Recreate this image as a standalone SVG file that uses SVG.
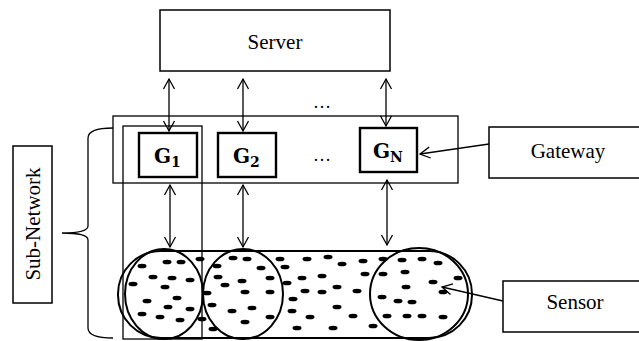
<svg xmlns="http://www.w3.org/2000/svg" width="639" height="341" viewBox="0 0 639 341">
  <defs>
    <marker id="open" markerWidth="14" markerHeight="14" refX="11" refY="7" orient="auto-start-reverse" markerUnits="userSpaceOnUse">
      <path d="M1,1.5 L11,7 L1,12.5" fill="none" stroke="#000" stroke-width="1.3"/>
    </marker>
    <style>
      .box { fill: #fff; stroke: #000; stroke-width: 1.5; }
      .thin { fill: none; stroke: #000; stroke-width: 1.3; }
      .gbox { fill: #fff; stroke: #000; stroke-width: 2.4; }
      .lbl { font-family: "Liberation Serif", "Times New Roman", serif; font-size: 21px; fill: #000; }
      .g { font-family: "DejaVu Serif", "Liberation Serif", serif; font-weight: bold; font-size: 20px; fill: #000; }
      .sub { font-size: 14px; }
      .dots { font-family: "Liberation Serif", serif; font-size: 18px; fill: #000; }
      .link { fill: none; stroke: #000; stroke-width: 1.3; }
      .ring { fill: none; stroke: #000; stroke-width: 2; }
      .dot { fill: #000; }
    </style>
  </defs>

  <rect width="639" height="341" fill="#fff"/>

  <!-- server -->
  <g id="server">
    <rect class="box" x="160" y="10" width="230" height="61" stroke-width="2"/>
    <text class="lbl" x="275" y="49" text-anchor="middle">Server</text>
  </g>

  <!-- gateway row -->
  <g id="gateway-row">
    <rect class="thin" x="113" y="116" width="345" height="67"/>
  </g>

  <!-- sub-network column -->
  <g id="subnetwork-column">
    <rect class="thin" x="123" y="126" width="79" height="213"/>
  </g>

  <g id="g1">
    <rect class="gbox" x="139" y="133" width="58" height="44"/>
    <text class="g" x="154" y="163">G<tspan class="sub" dy="4">1</tspan></text>
  </g>
  <g id="g2">
    <rect class="gbox" x="218" y="133" width="58" height="44"/>
    <text class="g" x="233" y="163">G<tspan class="sub" dy="4">2</tspan></text>
  </g>
  <g id="gn">
    <rect class="gbox" x="360" y="128" width="57" height="44"/>
    <text class="g" x="373" y="158">G<tspan class="sub" dy="4">N</tspan></text>
  </g>

  <text class="dots" x="322" y="108" text-anchor="middle">…</text>
  <text class="dots" x="322" y="161" text-anchor="middle">…</text>

  <!-- sensor field -->
  <g id="sensor-field">
    <rect class="ring" x="118" y="251" width="354" height="87" rx="43" ry="43"/>
    <ellipse class="ring" cx="164" cy="294" rx="39" ry="45"/>
    <ellipse class="ring" cx="243" cy="294" rx="40" ry="45"/>
    <ellipse class="ring" cx="419" cy="294" rx="49" ry="46"/>
    <g class="dot">
      <ellipse cx="142" cy="266" rx="4.5" ry="2.3"/>
      <ellipse cx="167" cy="262" rx="4.5" ry="2.3"/>
      <ellipse cx="181" cy="262" rx="4.5" ry="2.3"/>
      <ellipse cx="153" cy="277" rx="4.5" ry="2.3"/>
      <ellipse cx="172" cy="278" rx="4.5" ry="2.3"/>
      <ellipse cx="190" cy="280" rx="4.5" ry="2.3"/>
      <ellipse cx="133" cy="284" rx="4.5" ry="2.3"/>
      <ellipse cx="165" cy="287" rx="4.5" ry="2.3"/>
      <ellipse cx="147" cy="301" rx="4.5" ry="2.3"/>
      <ellipse cx="177" cy="298" rx="4.5" ry="2.3"/>
      <ellipse cx="168" cy="307" rx="4.5" ry="2.3"/>
      <ellipse cx="190" cy="309" rx="4.5" ry="2.3"/>
      <ellipse cx="142" cy="314" rx="4.5" ry="2.3"/>
      <ellipse cx="160" cy="317" rx="4.5" ry="2.3"/>
      <ellipse cx="180" cy="320" rx="4.5" ry="2.3"/>
      <ellipse cx="200" cy="259" rx="4.5" ry="2.3"/>
      <ellipse cx="207" cy="293" rx="4.5" ry="2.3"/>
      <ellipse cx="212" cy="305" rx="4.5" ry="2.3"/>
      <ellipse cx="202" cy="319" rx="4.5" ry="2.3"/>
      <ellipse cx="213" cy="329" rx="4.5" ry="2.3"/>
      <ellipse cx="217" cy="266" rx="4.5" ry="2.3"/>
      <ellipse cx="233" cy="258" rx="4.5" ry="2.3"/>
      <ellipse cx="247" cy="259" rx="4.5" ry="2.3"/>
      <ellipse cx="261" cy="268" rx="4.5" ry="2.3"/>
      <ellipse cx="218" cy="277" rx="4.5" ry="2.3"/>
      <ellipse cx="225" cy="285" rx="4.5" ry="2.3"/>
      <ellipse cx="242" cy="281" rx="4.5" ry="2.3"/>
      <ellipse cx="270" cy="278" rx="4.5" ry="2.3"/>
      <ellipse cx="245" cy="292" rx="4.5" ry="2.3"/>
      <ellipse cx="270" cy="292" rx="4.5" ry="2.3"/>
      <ellipse cx="232" cy="311" rx="4.5" ry="2.3"/>
      <ellipse cx="252" cy="308" rx="4.5" ry="2.3"/>
      <ellipse cx="245" cy="322" rx="4.5" ry="2.3"/>
      <ellipse cx="270" cy="317" rx="4.5" ry="2.3"/>
      <ellipse cx="280" cy="259" rx="4.5" ry="2.3"/>
      <ellipse cx="285" cy="267" rx="4.5" ry="2.3"/>
      <ellipse cx="307" cy="259" rx="4.5" ry="2.3"/>
      <ellipse cx="328" cy="257" rx="4.5" ry="2.3"/>
      <ellipse cx="342" cy="264" rx="4.5" ry="2.3"/>
      <ellipse cx="363" cy="261" rx="4.5" ry="2.3"/>
      <ellipse cx="383" cy="259" rx="4.5" ry="2.3"/>
      <ellipse cx="287" cy="283" rx="4.5" ry="2.3"/>
      <ellipse cx="302" cy="278" rx="4.5" ry="2.3"/>
      <ellipse cx="322" cy="276" rx="4.5" ry="2.3"/>
      <ellipse cx="365" cy="274" rx="4.5" ry="2.3"/>
      <ellipse cx="383" cy="274" rx="4.5" ry="2.3"/>
      <ellipse cx="305" cy="291" rx="4.5" ry="2.3"/>
      <ellipse cx="322" cy="292" rx="4.5" ry="2.3"/>
      <ellipse cx="337" cy="287" rx="4.5" ry="2.3"/>
      <ellipse cx="357" cy="291" rx="4.5" ry="2.3"/>
      <ellipse cx="293" cy="299" rx="4.5" ry="2.3"/>
      <ellipse cx="337" cy="307" rx="4.5" ry="2.3"/>
      <ellipse cx="292" cy="311" rx="4.5" ry="2.3"/>
      <ellipse cx="310" cy="317" rx="4.5" ry="2.3"/>
      <ellipse cx="353" cy="316" rx="4.5" ry="2.3"/>
      <ellipse cx="297" cy="328" rx="4.5" ry="2.3"/>
      <ellipse cx="333" cy="328" rx="4.5" ry="2.3"/>
      <ellipse cx="373" cy="326" rx="4.5" ry="2.3"/>
      <ellipse cx="402" cy="260" rx="4.5" ry="2.3"/>
      <ellipse cx="422" cy="259" rx="4.5" ry="2.3"/>
      <ellipse cx="438" cy="263" rx="4.5" ry="2.3"/>
      <ellipse cx="405" cy="272" rx="4.5" ry="2.3"/>
      <ellipse cx="458" cy="278" rx="4.5" ry="2.3"/>
      <ellipse cx="406" cy="287" rx="4.5" ry="2.3"/>
      <ellipse cx="433" cy="282" rx="4.5" ry="2.3"/>
      <ellipse cx="443" cy="292" rx="4.5" ry="2.3"/>
      <ellipse cx="382" cy="297" rx="4.5" ry="2.3"/>
      <ellipse cx="398" cy="301" rx="4.5" ry="2.3"/>
      <ellipse cx="412" cy="302" rx="4.5" ry="2.3"/>
      <ellipse cx="387" cy="316" rx="4.5" ry="2.3"/>
      <ellipse cx="407" cy="316" rx="4.5" ry="2.3"/>
      <ellipse cx="422" cy="316" rx="4.5" ry="2.3"/>
      <ellipse cx="443" cy="317" rx="4.5" ry="2.3"/>
    </g>
  </g>

  <!-- sub-network label and brace -->
  <g id="subnetwork-label">
    <rect class="box" x="13" y="146" width="39" height="157"/>
    <text class="lbl" x="0" y="0" text-anchor="middle" font-size="22" transform="translate(40,224) rotate(-90)">Sub-Network</text>
  </g>
  <g id="brace">
    <path class="link" d="M113,128 Q88,128 88,138 L88,226 Q88,233 62,233 Q88,233 88,240 L88,328 Q88,338 113,338"/>
  </g>

  <!-- callout labels -->
  <g id="gateway-label">
    <rect class="box" x="489" y="127" width="152" height="51"/>
    <text class="lbl" x="568" y="158" text-anchor="middle">Gateway</text>
  </g>
  <g id="sensor-label">
    <rect class="box" x="503" y="281" width="138" height="51"/>
    <text class="lbl" x="575" y="309" text-anchor="middle">Sensor</text>
  </g>

  <!-- connectors -->
  <g id="connectors">
    <line class="link" x1="169" y1="79" x2="169" y2="131" marker-start="url(#open)" marker-end="url(#open)"/>
    <line class="link" x1="243" y1="79" x2="243" y2="131" marker-start="url(#open)" marker-end="url(#open)"/>
    <line class="link" x1="386" y1="79" x2="386" y2="126" marker-start="url(#open)" marker-end="url(#open)"/>
    <line class="link" x1="170" y1="185" x2="170" y2="247" marker-start="url(#open)" marker-end="url(#open)"/>
    <line class="link" x1="243" y1="185" x2="243" y2="247" marker-start="url(#open)" marker-end="url(#open)"/>
    <line class="link" x1="387" y1="180" x2="387" y2="245" marker-start="url(#open)" marker-end="url(#open)"/>
    <line class="link" x1="489" y1="144" x2="420" y2="154" stroke-width="2" marker-end="url(#open)"/>
    <line class="link" x1="503" y1="301" x2="442" y2="287" stroke-width="2" marker-end="url(#open)"/>
  </g>
</svg>
